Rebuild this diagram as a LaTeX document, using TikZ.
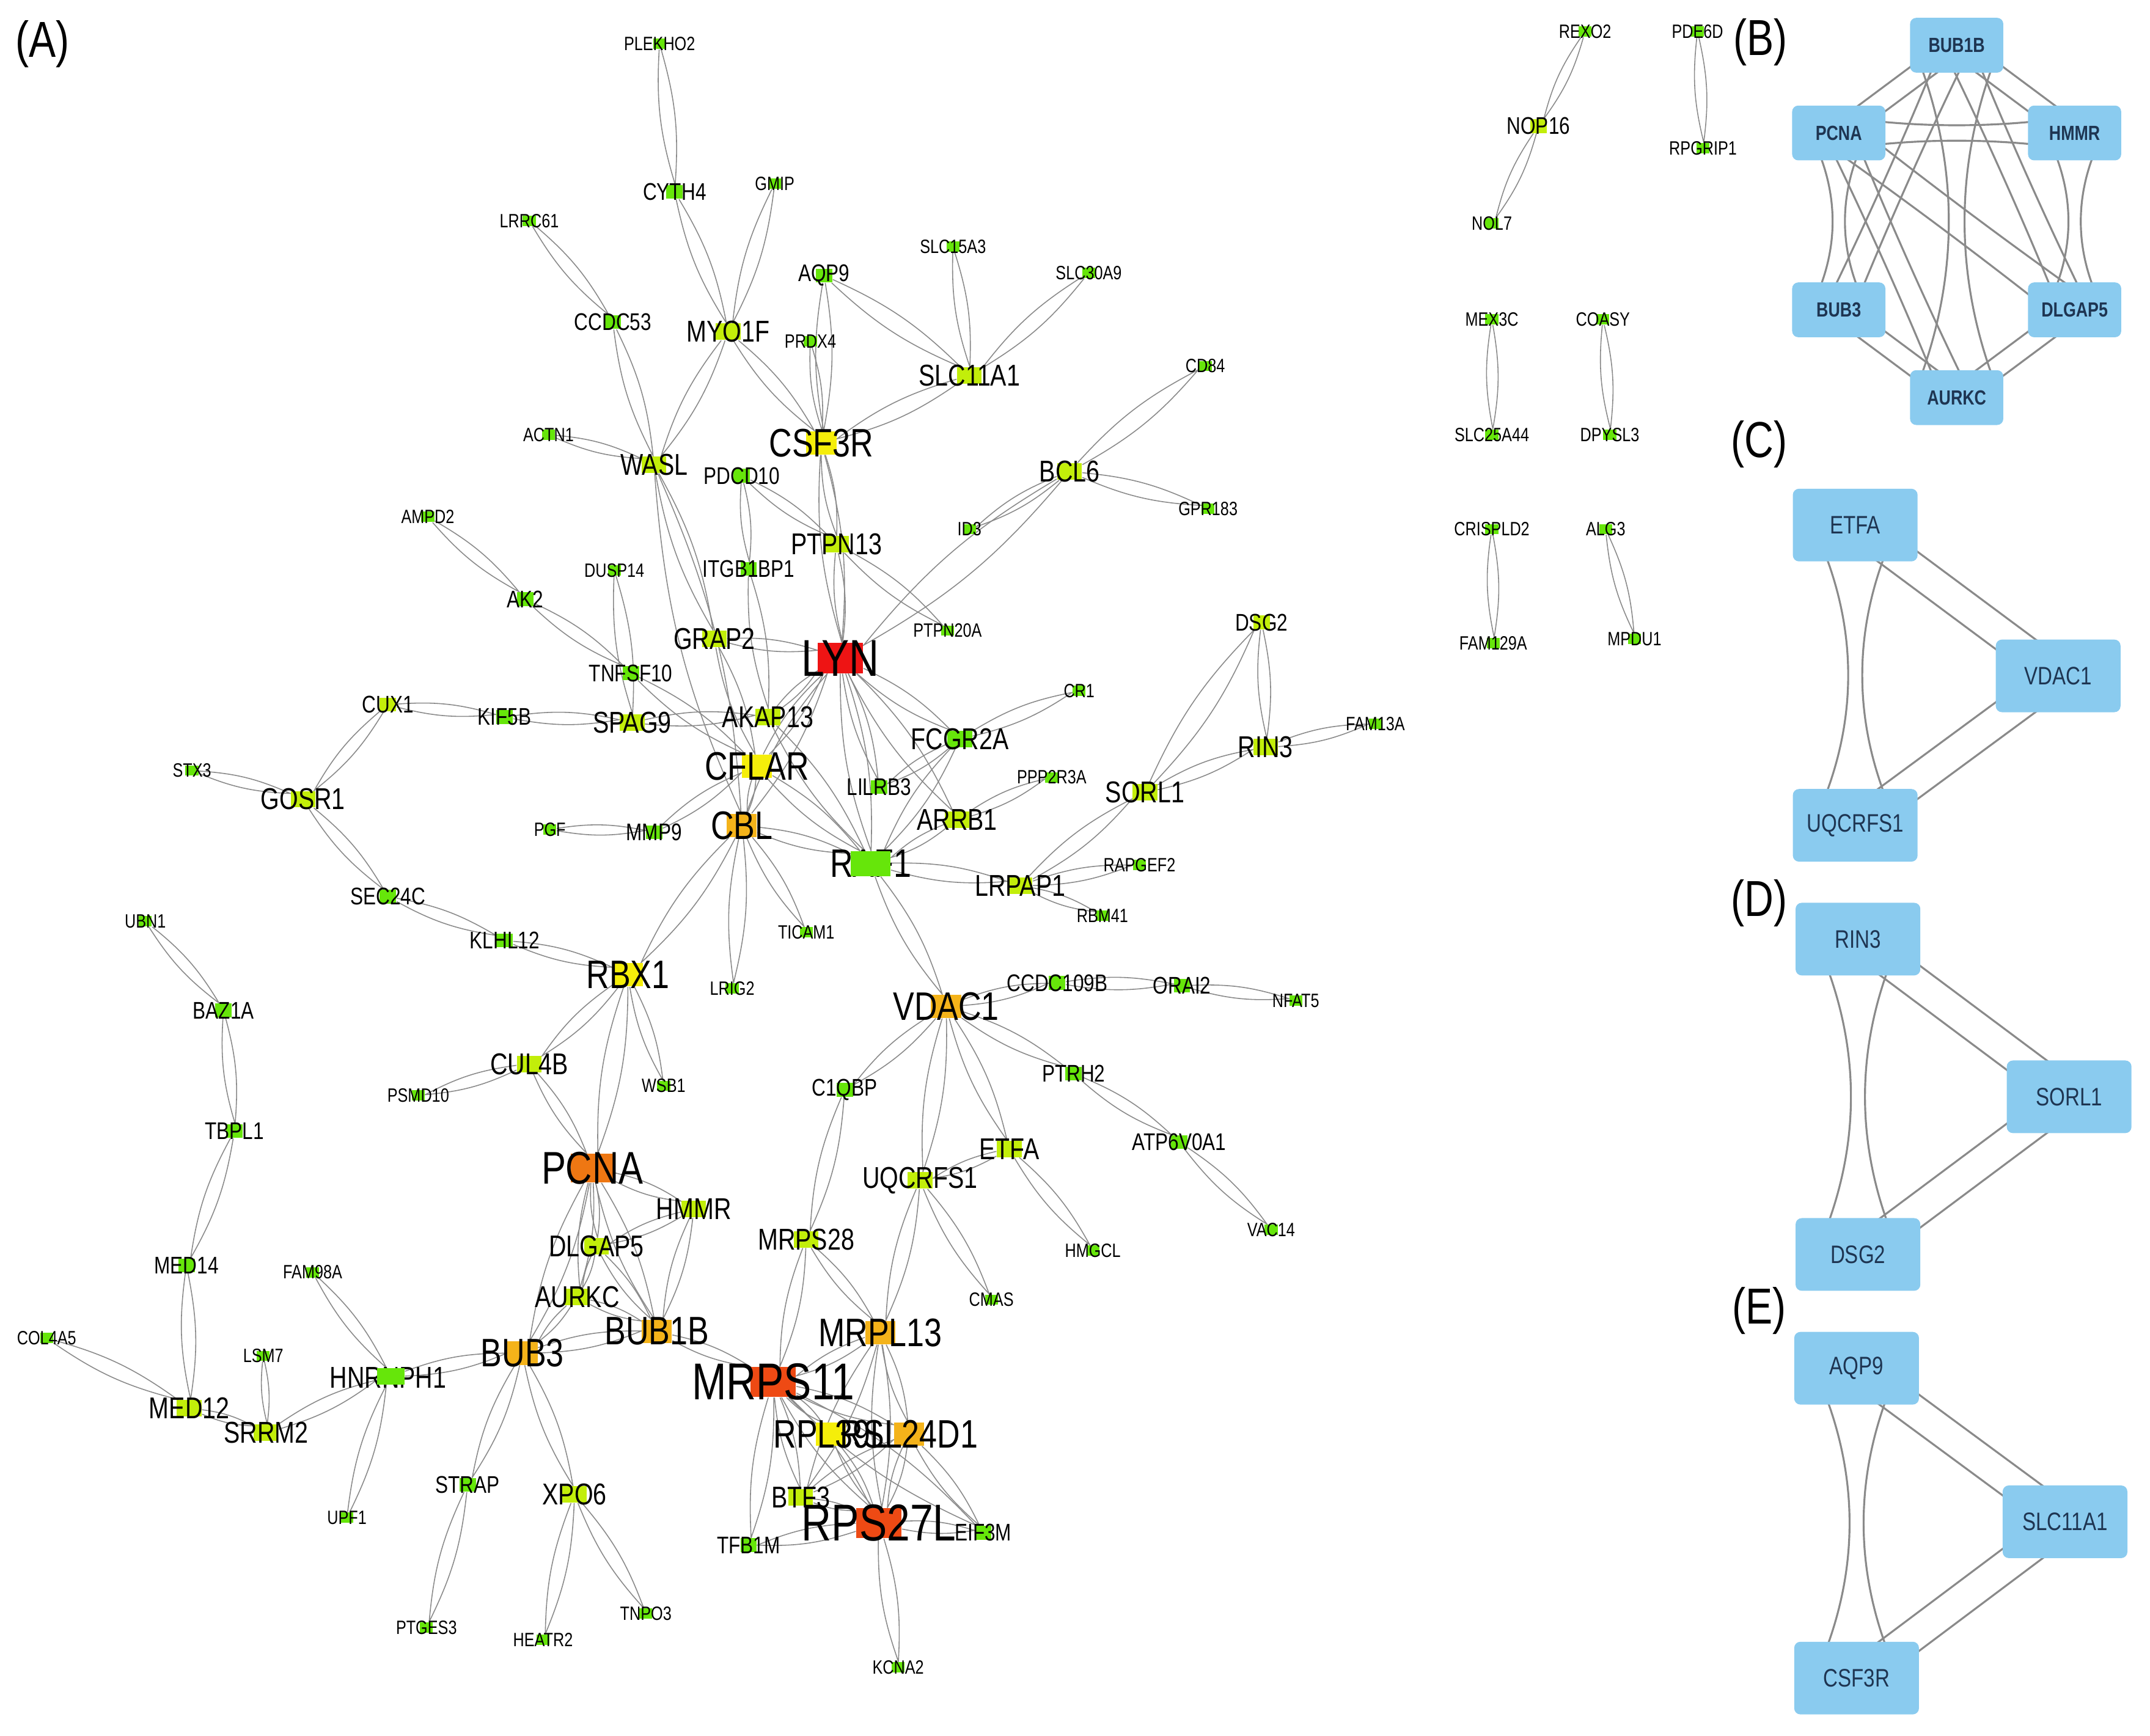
\documentclass[tikz,border=0pt]{standalone}
\usepackage{fontspec}
\setmainfont{Liberation Sans}
\newfontfamily\netfont{Liberation Sans}[FakeStretch=0.8]
\usetikzlibrary{calc}
\definecolor{cGrn}{HTML}{66E60A}
\definecolor{cLim}{HTML}{C2EE0A}
\definecolor{cYel}{HTML}{F5EE0A}
\definecolor{cOrg}{HTML}{F4B31A}
\definecolor{cDor}{HTML}{EE7713}
\definecolor{cRor}{HTML}{EE4A14}
\definecolor{cRed}{HTML}{EE1414}
\definecolor{cEdge}{HTML}{8A8A8A}
\definecolor{cPedge}{HTML}{8A8A8A}
\definecolor{cBox}{HTML}{8ACBEF}
\definecolor{cBtx}{HTML}{1E3552}
\pgfdeclarelayer{bg}
\pgfsetlayers{bg,main}

\begin{document}
\begin{tikzpicture}[x=0.02cm, y=-0.02cm,
  rc/.style={rectangle, inner sep=0pt, fill=cGrn},
  t1/.style={font=\netfont\fontsize{8}{8}\selectfont, inner sep=0pt},
  t2/.style={font=\netfont\fontsize{10}{10}\selectfont, inner sep=0pt},
  t3/.style={font=\netfont\fontsize{12.5}{12.5}\selectfont, inner sep=0pt},
  t4/.style={font=\netfont\fontsize{16.5}{16.5}\selectfont, inner sep=0pt},
  t5/.style={font=\netfont\fontsize{21.5}{21.5}\selectfont, inner sep=0pt},
  n1/.style={rc, minimum width=1.9mm, minimum height=1.5mm, label={[t1]center:#1}},
  n2/.style={rc, minimum width=2.4mm, minimum height=2mm, label={[t2]center:#1}},
  n3/.style={rc, minimum width=3.6mm, minimum height=2.4mm, label={[t3]center:#1}},
  n4/.style={rc, minimum width=4.4mm, minimum height=3.4mm, label={[t4]center:#1}},
  n5/.style={rc, minimum width=6.6mm, minimum height=4.4mm, label={[t5]center:#1}},
  e/.style={draw=cEdge, line width=0.4pt, bend left=10},
  pe/.style={draw=cPedge, line width=0.8pt},
  pair/.style 2 args={to path={
    ($(\tikztostart)!#1!90:(\tikztotarget)$) .. controls ($(\tikztostart)!0.33!(\tikztotarget)!#2!90:(\tikztotarget)$) and ($(\tikztostart)!0.67!(\tikztotarget)!#2!90:(\tikztotarget)$) .. ($(\tikztotarget)!#1!-90:(\tikztostart)$)
    ($(\tikztostart)!#1!-90:(\tikztotarget)$) .. controls ($(\tikztostart)!0.33!(\tikztotarget)!#2!-90:(\tikztotarget)$) and ($(\tikztostart)!0.67!(\tikztotarget)!#2!-90:(\tikztotarget)$) .. ($(\tikztotarget)!#1!90:(\tikztostart)$)}},
  boxb/.style={rectangle, rounded corners=0.9mm, fill=cBox, inner sep=0pt, minimum width=13.6mm, minimum height=8mm, text=cBtx, font=\netfont\bfseries\fontsize{8.5}{9}\selectfont},
  boxc/.style={boxb, minimum width=18.2mm, minimum height=10.6mm, font=\netfont\fontsize{10.5}{11}\selectfont},
  plab/.style={font=\netfont\fontsize{21}{21}\selectfont, inner sep=0pt}]

    \useasboundingbox (0,0) rectangle (1568,1266);

    % Panel labels
    \node[plab] (labA) at (31,32) {(A)};
    \node[plab] (labB) at (1284,31) {(B)};
    \node[plab] (labC) at (1283,324) {(C)};
    \node[plab] (labD) at (1283,659) {(D)};
    \node[plab] (labE) at (1283,956) {(E)};

    % Nodes, upper part
    \node[n1=PLEKHO2] (plekho2) at (481,32) {};
    \node[n2=CYTH4] (cyth4) at (492,140) {};
    \node[n1=LRRC61] (lrrc61) at (386,161) {};
    \node[n1=GMIP] (gmip) at (565,134) {};
    \node[n2=CCDC53] (ccdc53) at (447,235) {};
    \node[n3=MYO1F, fill=cLim] (myo1f) at (531,242) {};
    \node[n2=AQP9] (aqp9) at (601,201) {};
    \node[n1=PRDX4] (prdx4) at (591,249) {};
    \node[n1=SLC15A3] (slc15a3) at (695,180) {};
    \node[n1=SLC30A9] (slc30a9) at (794,199) {};
    \node[n3=SLC11A1, fill=cLim] (slc11a1) at (707,274) {};
    \node[n4=CSF3R, fill=cYel] (csf3r) at (599,323) {};
    \node[n1=ACTN1] (actn1) at (400,317) {};
    \node[n3=WASL, fill=cLim] (wasl) at (477,339) {};
    \node[n2=PDCD10] (pdcd10) at (541,347) {};
    \node[n3=BCL6, fill=cLim] (bcl6) at (780,344) {};
    \node[n1=CD84] (cd84) at (879,267) {};
    \node[n1=GPR183] (gpr183) at (881,371) {};
    \node[n1=ID3] (id3) at (707,386) {};
    \node[n3=PTPN13, fill=cLim] (ptpn13) at (610,397) {};
    \node[n2=ITGB1BP1] (itgb1bp1) at (546,415) {};
    \node[n1=AMPD2] (ampd2) at (312,377) {};
    \node[n2=AK2] (ak2) at (383,437) {};
    \node[n1=DUSP14] (dusp14) at (448,416) {};
    \node[n2=TNFSF10] (tnfsf10) at (460,491) {};
    \node[n3=GRAP2, fill=cLim] (grap2) at (521,466) {};
    \node[n5=LYN, fill=cRed] (lyn) at (613,480) {};
    \node[n1=PTPN20A] (ptpn20a) at (691,460) {};

    % Nodes, middle part
    \node[n2=CUX1, fill=cLim] (cux1) at (283,514) {};
    \node[n2=KIF5B] (kif5b) at (368,523) {};
    \node[n3=SPAG9, fill=cLim] (spag9) at (461,527) {};
    \node[n3=AKAP13, fill=cLim] (akap13) at (560,523) {};
    \node[n1=CR1] (cr1) at (787,504) {};
    \node[n3=FCGR2A] (fcgr2a) at (700,539) {};
    \node[n4=CFLAR, fill=cYel] (cflar) at (552,559) {};
    \node[n2=LILRB3] (lilrb3) at (641,574) {};
    \node[n1=STX3] (stx3) at (140,562) {};
    \node[n3=GOSR1, fill=cLim] (gosr1) at (221,583) {};
    \node[n1=PGF] (pgf) at (401,605) {};
    \node[n2=MMP9] (mmp9) at (477,607) {};
    \node[n4=CBL, fill=cOrg] (cbl) at (541,602) {};
    \node[t4] (raf1t) at (635,630) {RAF1};
    \node[rc, minimum width=5.8mm, minimum height=3.6mm] (raf1) at (635,630) {};
    \node[n1=PPP2R3A] (ppp2r3a) at (767,567) {};
    \node[n3=ARRB1, fill=cLim] (arrb1) at (698,598) {};
    \node[n3=SORL1, fill=cLim] (sorl1) at (835,578) {};
    \node[n2=DSG2, fill=cLim] (dsg2) at (920,454) {};
    \node[n3=RIN3, fill=cLim] (rin3) at (923,545) {};
    \node[n1=FAM13A] (fam13a) at (1003,528) {};
    \node[n1=RAPGEF2] (rapgef2) at (831,631) {};
    \node[n3=LRPAP1, fill=cLim] (lrpap1) at (744,646) {};
    \node[n1=RBM41] (rbm41) at (804,668) {};
    \node[n2=SEC24C] (sec24c) at (283,654) {};
    \node[n2=KLHL12] (klhl12) at (368,686) {};
    \node[n1=TICAM1] (ticam1) at (588,680) {};
    \node[n1=LRIG2] (lrig2) at (534,721) {};
    \node[n4=RBX1, fill=cYel] (rbx1) at (458,711) {};

    % Nodes, lower left
    \node[n1=UBN1] (ubn1) at (106,672) {};
    \node[n2=BAZ1A] (baz1a) at (163,737) {};
    \node[n3=CUL4B, fill=cLim] (cul4b) at (386,776) {};
    \node[n1=PSMD10] (psmd10) at (305,799) {};
    \node[n1=WSB1] (wsb1) at (484,792) {};
    \node[n2=TBPL1] (tbpl1) at (171,825) {};
    \node[rc, fill=cDor, minimum width=6.2mm, minimum height=4.2mm, label={[t4, font=\netfont\fontsize{19}{19}\selectfont]center:PCNA}] (pcna) at (432,852) {};
    \node[n3=HMMR, fill=cLim] (hmmr) at (506,882) {};
    \node[n3=DLGAP5, fill=cLim] (dlgap5) at (435,909) {};
    \node[n3=AURKC, fill=cLim] (aurkc) at (421,946) {};
    \node[n2=MED14] (med14) at (136,923) {};
    \node[n1=FAM98A] (fam98a) at (228,928) {};
    \node[n4=BUB1B, fill=cOrg] (bub1b) at (479,971) {};
    \node[n1=COL4A5] (col4a5) at (34,976) {};
    \node[n1=LSM7] (lsm7) at (192,989) {};
    \node[n4=BUB3, fill=cOrg] (bub3) at (381,987) {};
    \node[t3] (hnrnph1t) at (283,1005) {HNRNPH1};
    \node[rc, minimum width=4mm, minimum height=2.4mm] (hnrnph1) at (285,1004) {};
    \node[n3=MED12, fill=cLim] (med12) at (138,1027) {};
    \node[n3=SRRM2, fill=cLim] (srrm2) at (194,1045) {};
    \node[n2=STRAP] (strap) at (341,1083) {};
    \node[n3=XPO6, fill=cLim] (xpo6) at (419,1090) {};
    \node[n1=UPF1] (upf1) at (253,1107) {};
    \node[n1=PTGES3] (ptges3) at (311,1187) {};
    \node[n1=HEATR2] (heatr2) at (396,1196) {};
    \node[n1=TNPO3] (tnpo3) at (471,1177) {};

    % Nodes, lower right
    \node[n4=VDAC1, fill=cOrg] (vdac1) at (690,734) {};
    \node[n2=CCDC109B] (ccdc109b) at (771,717) {};
    \node[n2=ORAI2] (orai2) at (862,719) {};
    \node[n1=NFAT5] (nfat5) at (945,730) {};
    \node[n2=C1QBP] (c1qbp) at (616,795) {};
    \node[n2=PTRH2] (ptrh2) at (783,783) {};
    \node[n2=ATP6V0A1] (atp6v0a1) at (860,833) {};
    \node[n3=ETFA, fill=cLim] (etfa) at (736,838) {};
    \node[n3=UQCRFS1, fill=cLim] (uqcrfs1) at (671,861) {};
    \node[n1=VAC14] (vac14) at (927,897) {};
    \node[n1=HMGCL] (hmgcl) at (797,912) {};
    \node[n3=MRPS28, fill=cLim] (mrps28) at (588,904) {};
    \node[n1=CMAS] (cmas) at (723,948) {};
    \node[n4=MRPL13, fill=cOrg] (mrpl13) at (642,972) {};
    \node[n5=MRPS11, fill=cRor] (mrps11) at (564,1008) {};
    \node[n4=RPL39L, fill=cYel] (rpl39l) at (606,1046) {};
    \node[n4=RSL24D1, fill=cOrg] (rsl24d1) at (663,1046) {};
    \node[n3=BTF3, fill=cLim] (btf3) at (584,1092) {};
    \node[n5=RPS27L, fill=cRor] (rps27l) at (641,1111) {};
    \node[n2=EIF3M] (eif3m) at (717,1118) {};
    \node[n2=TFB1M] (tfb1m) at (546,1127) {};
    \node[n1=KCNA2] (kcna2) at (655,1216) {};

    % Nodes, small pieces
    \node[n1=REXO2] (rexo2) at (1156,23) {};
    \node[n2=NOP16, fill=cLim] (nop16) at (1122,92) {};
    \node[n1=NOL7] (nol7) at (1088,163) {};
    \node[n1=PDE6D] (pde6d) at (1238,23) {};
    \node[n1=RPGRIP1] (rpgrip1) at (1242,108) {};
    \node[n1=MEX3C] (mex3c) at (1088,233) {};
    \node[n1=SLC25A44] (slc25a44) at (1088,317) {};
    \node[n1=COASY] (coasy) at (1169,233) {};
    \node[n1=DPYSL3] (dpysl3) at (1174,317) {};
    \node[n1=CRISPLD2] (crispld2) at (1088,386) {};
    \node[n1=FAM129A] (fam129a) at (1089,469) {};
    \node[n1=ALG3] (alg3) at (1171,386) {};
    \node[n1=MPDU1] (mpdu1) at (1192,466) {};

    % Panel boxes
    \node[boxb] (bub1bB) at (1427,33) {BUB1B};
    \node[boxb] (pcnaB) at (1341,97) {PCNA};
    \node[boxb] (hmmrB) at (1513,97) {HMMR};
    \node[boxb] (bub3B) at (1341,226) {BUB3};
    \node[boxb] (dlgap5B) at (1513,226) {DLGAP5};
    \node[boxb] (aurkcB) at (1427,290) {AURKC};

    \node[boxc] (etfaC) at (1353,383) {ETFA};
    \node[boxc] (vdac1C) at (1501,493) {VDAC1};
    \node[boxc] (uqcrfs1C) at (1353,602) {UQCRFS1};

    \node[boxc] (rin3D) at (1355,685) {RIN3};
    \node[boxc] (sorl1D) at (1509,800) {SORL1};
    \node[boxc] (dsg2D) at (1355,915) {DSG2};

    \node[boxc] (aqp9E) at (1354,998) {AQP9};
    \node[boxc] (slc11a1E) at (1506,1110) {SLC11A1};
    \node[boxc] (csf3rE) at (1354,1224) {CSF3R};

    \begin{pgfonlayer}{bg}
    % Lines, upper part
    \draw[e] (plekho2) to (cyth4) to (plekho2);
    \draw[e] (cyth4) to (myo1f) to (cyth4);
    \draw[e] (gmip) to (myo1f) to (gmip);
    \draw[e] (lrrc61) to (ccdc53) to (lrrc61);
    \draw[e] (ccdc53) to (wasl) to (ccdc53);
    \draw[e] (myo1f) to (wasl) to (myo1f);
    \draw[e] (myo1f) to (csf3r) to (myo1f);
    \draw[e] (aqp9) to (csf3r) to (aqp9);
    \draw[e] (prdx4) to (csf3r) to (prdx4);
    \draw[e] (aqp9) to (slc11a1) to (aqp9);
    \draw[e] (slc15a3) to (slc11a1) to (slc15a3);
    \draw[e] (slc30a9) to (slc11a1) to (slc30a9);
    \draw[e] (slc11a1) to (csf3r) to (slc11a1);
    \draw[e] (actn1) to (wasl) to (actn1);
    \draw[e] (wasl) to (grap2) to (wasl);
    \draw[e] (wasl) to (cbl) to (wasl);
    \draw[e] (csf3r) to (ptpn13) to (csf3r);
    \draw[e] (csf3r) to (lyn) to (csf3r);
    \draw[e] (ptpn13) to (lyn) to (ptpn13);
    \draw[e] (ptpn13) to (ptpn20a) to (ptpn13);
    \draw[e] (pdcd10) to (ptpn13) to (pdcd10);
    \draw[e] (pdcd10) to (itgb1bp1) to (pdcd10);
    \draw[e] (itgb1bp1) to (akap13) to (itgb1bp1);
    \draw[e] (bcl6) to (cd84) to (bcl6);
    \draw[e] (bcl6) to (gpr183) to (bcl6);
    \draw[e] (bcl6) to (id3) to (bcl6);
    \draw[e] (bcl6) to (lyn) to (bcl6);

    % Lines, middle part
    \draw[e] (ampd2) to (ak2) to (ampd2);
    \draw[e] (ak2) to (tnfsf10) to (ak2);
    \draw[e] (tnfsf10) to (cflar) to (tnfsf10);
    \draw[e] (dusp14) to (spag9) to (dusp14);
    \draw[e] (cux1) to (kif5b) to (cux1);
    \draw[e] (kif5b) to (spag9) to (kif5b);
    \draw[e] (spag9) to (akap13) to (spag9);
    \draw[e] (akap13) to (lyn) to (akap13);
    \draw[e] (akap13) to (raf1) to (akap13);
    \draw[e] (grap2) to (lyn) to (grap2);
    \draw[e] (grap2) to (cflar) to (grap2);
    \draw[e] (cflar) to (lyn) to (cflar);
    \draw[e] (cflar) to (raf1) to (cflar);
    \draw[e] (cflar) to (cbl) to (cflar);
    \draw[e] (cbl) to (lyn) to (cbl);
    \draw[e] (cbl) to (raf1) to (cbl);
    \draw[e] (pgf) to (mmp9) to (pgf);
    \draw[e] (mmp9) to (cflar) to (mmp9);
    \draw[e] (lyn) to (raf1) to (lyn);
    \draw[e] (lyn) to (fcgr2a) to (lyn);
    \draw[e] (lyn) to (lilrb3) to (lyn);
    \draw[e] (lyn) to (arrb1) to (lyn);
    \draw[e] (fcgr2a) to (cr1) to (fcgr2a);
    \draw[e] (fcgr2a) to (lilrb3) to (fcgr2a);
    \draw[e] (fcgr2a) to (raf1) to (fcgr2a);
    \draw[e] (arrb1) to (ppp2r3a) to (arrb1);
    \draw[e] (arrb1) to (raf1) to (arrb1);
    \draw[e] (raf1) to (lrpap1) to (raf1);
    \draw[e] (lrpap1) to (sorl1) to (lrpap1);
    \draw[e] (lrpap1) to (rapgef2) to (lrpap1);
    \draw[e] (lrpap1) to (rbm41) to (lrpap1);
    \draw[e] (sorl1) to (dsg2) to (sorl1);
    \draw[e] (sorl1) to (rin3) to (sorl1);
    \draw[e] (dsg2) to (rin3) to (dsg2);
    \draw[e] (rin3) to (fam13a) to (rin3);
    \draw[e] (raf1) to (vdac1) to (raf1);
    \draw[e] (cbl) to (rbx1) to (cbl);
    \draw[e] (cbl) to (ticam1) to (cbl);
    \draw[e] (cbl) to (lrig2) to (cbl);
    \draw[e] (stx3) to (gosr1) to (stx3);
    \draw[e] (cux1) to (gosr1) to (cux1);
    \draw[e] (gosr1) to (sec24c) to (gosr1);
    \draw[e] (sec24c) to (klhl12) to (sec24c);
    \draw[e] (klhl12) to (rbx1) to (klhl12);

    % Lines, lower left
    \draw[e] (rbx1) to (cul4b) to (rbx1);
    \draw[e] (rbx1) to (wsb1) to (rbx1);
    \draw[e] (rbx1) to (pcna) to (rbx1);
    \draw[e] (cul4b) to (psmd10) to (cul4b);
    \draw[e] (cul4b) to (pcna) to (cul4b);
    \draw[e] (ubn1) to (baz1a) to (ubn1);
    \draw[e] (baz1a) to (tbpl1) to (baz1a);
    \draw[e] (tbpl1) to (med14) to (tbpl1);
    \draw[e] (med14) to (med12) to (med14);
    \draw[e] (col4a5) to (med12) to (col4a5);
    \draw[e] (med12) to (srrm2) to (med12);
    \draw[e] (lsm7) to (srrm2) to (lsm7);
    \draw[e] (srrm2) to (hnrnph1) to (srrm2);
    \draw[e] (fam98a) to (hnrnph1) to (fam98a);
    \draw[e] (upf1) to (hnrnph1) to (upf1);
    \draw[e] (hnrnph1) to (bub3) to (hnrnph1);
    \draw[e] (pcna) to (hmmr) to (pcna);
    \draw[e] (pcna) to (dlgap5) to (pcna);
    \draw[e] (pcna) to (aurkc) to (pcna);
    \draw[e] (pcna) to (bub3) to (pcna);
    \draw[e] (pcna) to (bub1b) to (pcna);
    \draw[e] (hmmr) to (dlgap5) to (hmmr);
    \draw[e] (hmmr) to (bub1b) to (hmmr);
    \draw[e] (dlgap5) to (bub1b) to (dlgap5);
    \draw[e] (dlgap5) to (aurkc) to (dlgap5);
    \draw[e] (aurkc) to (bub1b) to (aurkc);
    \draw[e] (aurkc) to (bub3) to (aurkc);
    \draw[e] (bub3) to (bub1b) to (bub3);
    \draw[e] (bub3) to (strap) to (bub3);
    \draw[e] (strap) to (ptges3) to (strap);
    \draw[e] (bub3) to (xpo6) to (bub3);
    \draw[e] (xpo6) to (heatr2) to (xpo6);
    \draw[e] (xpo6) to (tnpo3) to (xpo6);
    \draw[e] (bub1b) to (mrps11) to (bub1b);

    % Lines, lower right
    \draw[e] (vdac1) to (ccdc109b) to (vdac1);
    \draw[e] (ccdc109b) to (orai2) to (ccdc109b);
    \draw[e] (orai2) to (nfat5) to (orai2);
    \draw[e] (vdac1) to (ptrh2) to (vdac1);
    \draw[e] (ptrh2) to (atp6v0a1) to (ptrh2);
    \draw[e] (atp6v0a1) to (vac14) to (atp6v0a1);
    \draw[e] (vdac1) to (c1qbp) to (vdac1);
    \draw[e] (vdac1) to (etfa) to (vdac1);
    \draw[e] (vdac1) to (uqcrfs1) to (vdac1);
    \draw[e] (etfa) to (uqcrfs1) to (etfa);
    \draw[e] (etfa) to (hmgcl) to (etfa);
    \draw[e] (uqcrfs1) to (cmas) to (uqcrfs1);
    \draw[e] (uqcrfs1) to (mrpl13) to (uqcrfs1);
    \draw[e] (c1qbp) to (mrps28) to (c1qbp);
    \draw[e] (mrps28) to (mrps11) to (mrps28);
    \draw[e] (mrps28) to (mrpl13) to (mrps28);
    \draw[e] (mrpl13) to (mrps11) to (mrpl13);
    \draw[e] (mrps11) to (rpl39l) to (mrps11);
    \draw[e] (mrps11) to (rsl24d1) to (mrps11);
    \draw[e] (mrps11) to (btf3) to (mrps11);
    \draw[e] (mrps11) to (rps27l) to (mrps11);
    \draw[e] (mrps11) to (tfb1m) to (mrps11);
    \draw[e] (mrps11) to (eif3m) to (mrps11);
    \draw[e] (mrpl13) to (rsl24d1) to (mrpl13);
    \draw[e] (mrpl13) to (rps27l) to (mrpl13);
    \draw[e] (mrpl13) to (btf3) to (mrpl13);
    \draw[e] (rpl39l) to (rps27l) to (rpl39l);
    \draw[e] (rsl24d1) to (rps27l) to (rsl24d1);
    \draw[e] (btf3) to (rps27l) to (btf3);
    \draw[e] (btf3) to (rsl24d1) to (btf3);
    \draw[e] (rps27l) to (tfb1m) to (rps27l);
    \draw[e] (rps27l) to (eif3m) to (rps27l);
    \draw[e] (rsl24d1) to (eif3m) to (rsl24d1);
    \draw[e] (rps27l) to (kcna2) to (rps27l);

    % Lines, small pieces
    \draw[e] (rexo2) to (nop16) to (rexo2);
    \draw[e] (nop16) to (nol7) to (nop16);
    \draw[e] (pde6d) to (rpgrip1) to (pde6d);
    \draw[e] (mex3c) to (slc25a44) to (mex3c);
    \draw[e] (coasy) to (dpysl3) to (coasy);
    \draw[e] (crispld2) to (fam129a) to (crispld2);
    \draw[e] (alg3) to (mpdu1) to (alg3);

    % Panel lines
    \draw[pe] (bub1bB) to[pair={1.5mm}{1.5mm}] (pcnaB);
    \draw[pe] (bub1bB) to[pair={1.5mm}{1.5mm}] (hmmrB);
    \draw[pe] (pcnaB) to[pair={2.4mm}{0.7mm}] (hmmrB);
    \draw[pe] (pcnaB) to[pair={4.2mm}{-0.2mm}] (bub3B);
    \draw[pe] (hmmrB) to[pair={4.2mm}{-0.2mm}] (dlgap5B);
    \draw[pe] (bub3B) to[pair={1.5mm}{1.5mm}] (aurkcB);
    \draw[pe] (dlgap5B) to[pair={1.5mm}{1.5mm}] (aurkcB);
    \draw[pe] (bub1bB) to[pair={2mm}{1.5mm}] (bub3B);
    \draw[pe] (bub1bB) to[pair={2mm}{1.5mm}] (dlgap5B);
    \draw[pe] (bub1bB) to[pair={6.4mm}{-0.6mm}] (aurkcB);
    \draw[pe] (pcnaB) to[pair={2.4mm}{2mm}] (dlgap5B);
    \draw[pe] (pcnaB) to[pair={2mm}{1.5mm}] (aurkcB);

    \draw[pe] (etfaC) to[pair={6.2mm}{-0.7mm}] (uqcrfs1C);
    \draw[pe] (etfaC) to[pair={2.3mm}{2.3mm}] (vdac1C);
    \draw[pe] (uqcrfs1C) to[pair={2.3mm}{2.3mm}] (vdac1C);

    \draw[pe] (rin3D) to[pair={6.2mm}{-0.7mm}] (dsg2D);
    \draw[pe] (rin3D) to[pair={2.3mm}{2.3mm}] (sorl1D);
    \draw[pe] (dsg2D) to[pair={2.3mm}{2.3mm}] (sorl1D);

    \draw[pe] (aqp9E) to[pair={6.2mm}{-0.7mm}] (csf3rE);
    \draw[pe] (aqp9E) to[pair={2.3mm}{2.3mm}] (slc11a1E);
    \draw[pe] (csf3rE) to[pair={2.3mm}{2.3mm}] (slc11a1E);
    \end{pgfonlayer}

\end{tikzpicture}
\end{document}
